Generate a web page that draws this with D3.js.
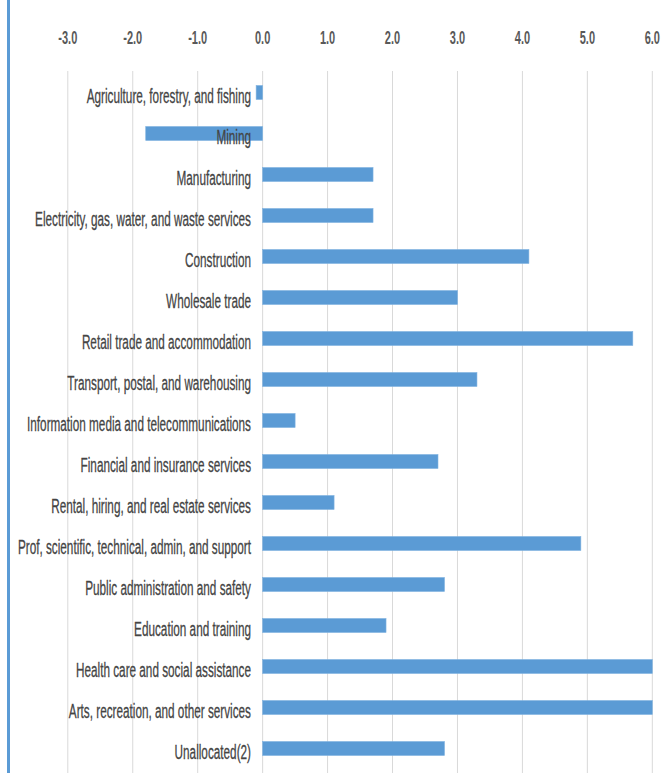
<!DOCTYPE html>
<html>
<head>
<meta charset="utf-8">
<script src="https://cdn.jsdelivr.net/npm/d3@7"></script>
<style>
  html, body { margin: 0; padding: 0; background: #ffffff; }
  svg { display: block; }
</style>
</head>
<body>
<div id="chart"></div>
<script>
// Industry categories, top to bottom
const categories = [
  "Agriculture, forestry, and fishing",
  "Mining",
  "Manufacturing",
  "Electricity, gas, water, and waste services",
  "Construction",
  "Wholesale trade",
  "Retail trade and accommodation",
  "Transport, postal, and warehousing",
  "Information media and telecommunications",
  "Financial and insurance services",
  "Rental, hiring, and real estate services",
  "Prof, scientific, technical, admin, and support",
  "Public administration and safety",
  "Education and training",
  "Health care and social assistance",
  "Arts, recreation, and other services",
  "Unallocated(2)"
];

// Change per industry
const values = [-0.1, -1.8, 1.7, 1.7, 4.1, 3.0, 5.7, 3.3, 0.5, 2.7, 1.1, 4.9, 2.8, 1.9, 6.0, 6.0, 2.8];

// Axis ticks
const tickValues = [-3, -2, -1, 0, 1, 2, 3, 4, 5, 6];

const W = 665, H = 773;
const barColor = "#5B9BD5";
const tickSqueeze = 0.58;  // horizontal compression of axis text
const labelSqueeze = 0.56; // horizontal compression of category text

const svg = d3.select("#chart").append("svg")
  .attr("width", W).attr("height", H);

const x = d3.scaleLinear().domain([-3, 6]).range([67.8, 652.3]).clamp(true);
const y = d3.scaleBand().domain(categories).range([72, 769])
  .paddingInner(0.66).paddingOuter(0.33);

// left accent rule
svg.append("rect")
  .attr("x", 7).attr("y", 0).attr("width", 3).attr("height", H)
  .attr("fill", barColor);

// vertical gridlines
svg.append("g").selectAll("line").data(tickValues).join("line")
  .attr("x1", d => x(d)).attr("x2", d => x(d))
  .attr("y1", 71).attr("y2", H)
  .attr("stroke", "#d9d9d9").attr("stroke-width", 1);

// top axis labels (plain hyphen for negatives)
const fmt = d => d3.format(".1f")(d).replace("\u2212", "-");
const axis = svg.append("g")
  .call(d3.axisTop(x).tickValues(tickValues).tickSize(0).tickFormat(fmt));
axis.select(".domain").remove();
axis.selectAll(".tick")
  .attr("transform", d => `translate(${x(d)},44) scale(${tickSqueeze},1)`);
axis.selectAll("text")
  .attr("y", 0).attr("dy", 0)
  .attr("fill", "#595959")
  .attr("font-family", "'Liberation Sans', Arial, sans-serif")
  .attr("font-size", 19)
  .attr("font-weight", "bold");

// bars
svg.append("g").selectAll("rect").data(values).join("rect")
  .attr("x", d => x(Math.min(0, d)))
  .attr("width", d => Math.abs(x(d) - x(0)))
  .attr("y", (d, i) => y(categories[i]))
  .attr("height", y.bandwidth())
  .attr("fill", barColor)
  .attr("stroke", "#7fb2e0").attr("stroke-width", 0.6);

// category labels
svg.append("g").selectAll("text").data(categories).join("text")
  .attr("transform", d => `translate(251,${y(d) + y.bandwidth() / 2 + 10}) scale(${labelSqueeze},1)`)
  .attr("text-anchor", "end")
  .attr("fill", "#444444")
  .attr("font-family", "'Liberation Sans', Arial, sans-serif")
  .attr("font-size", 21)
  .attr("stroke", "#444444").attr("stroke-width", 0.3)
  .text(d => d);
</script>
</body>
</html>
